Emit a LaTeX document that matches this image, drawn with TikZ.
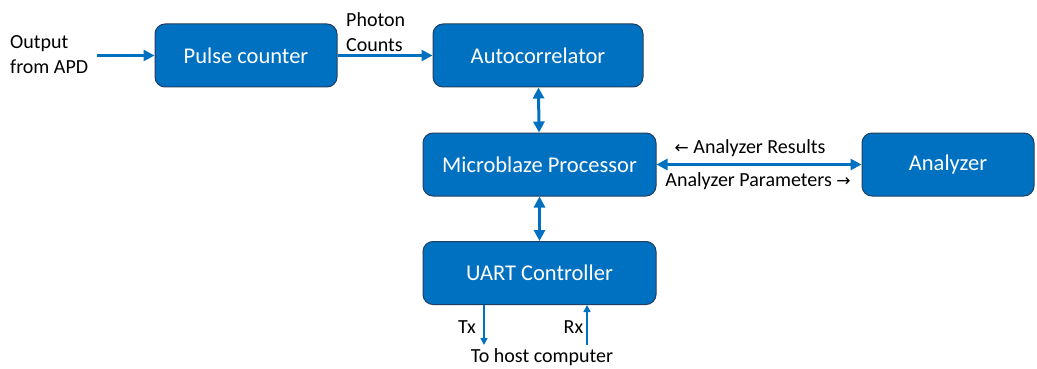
\documentclass[tikz,border=0pt]{standalone}
\usepackage{fontspec}
\setmainfont{Carlito}
\newfontfamily\arrowfont{DejaVu Sans}
\usetikzlibrary{arrows.meta}
\definecolor{boxblue}{RGB}{0,112,192}
\definecolor{boxedge}{RGB}{34,62,98}

\begin{document}
\begin{tikzpicture}[x=1pt,y=-1pt,
    blk/.style={draw=boxedge,line width=1pt,fill=boxblue,rounded corners=10pt,
      text=white,font=\fontsize{22.5}{27}\selectfont,minimum height=63pt,inner sep=0pt},
    lbl/.style={font=\fontsize{20}{25}\selectfont,inner sep=0pt,align=left},
    lnk/.style={draw=boxblue,line width=3pt,-{Triangle[length=11pt,width=11pt]}},
    duo/.style={draw=boxblue,line width=3pt,
      {Triangle[length=11pt,width=11pt]}-{Triangle[length=11pt,width=11pt]}},
    wire/.style={draw=boxblue,line width=1.5pt,-{Triangle[length=7pt,width=7pt]}}]
    \useasboundingbox (0,0) rectangle (1037,369);
    % blocks
    \node[blk,minimum width=182pt] (pulse) at (246,55.5) {Pulse counter};
    \node[blk,minimum width=210pt] (auto) at (538,55.5) {Autocorrelator};
    \node[blk,minimum width=233pt] (micro) at (539.5,164.5) {Microblaze Processor};
    \node[blk,minimum width=172pt] (analyzer) at (948,164.5) {Analyzer};
    \node[blk,minimum width=233pt] (uart) at (539.5,273) {UART Controller};
    % labels
    \node[lbl,anchor=west] (apdtxt) at (10,55) {Output\\from APD};
    \node[lbl,anchor=west] (phtxt) at (346,32) {Photon\\Counts};
    \node[lbl] (restxt) at (750,148) {{\arrowfont\fontsize{17}{20}\selectfont ←} Analyzer Results};
    \node[lbl] (partxt) at (758,181) {Analyzer Parameters {\arrowfont\fontsize{17}{20}\selectfont →}};
    \node[lbl] (txtxt) at (467,327) {Tx};
    \node[lbl] (rxtxt) at (573.5,327) {Rx};
    \node[lbl] (hosttxt) at (542,357) {To host computer};
    % links
    \coordinate (apd) at (97,55.5);
    \coordinate (tx) at (484,345);
    \coordinate (rx) at (587,345);
    \draw[lnk] (apd) -- (pulse);
    \draw[lnk] (pulse) -- (auto);
    \draw[duo] (auto) -- (micro);
    \draw[duo] (micro) -- (uart);
    \draw[duo] (micro) -- (analyzer);
    \draw[wire] (uart.south -| tx) -- (tx);
    \draw[wire] (rx) -- (uart.south -| rx);
\end{tikzpicture}
\end{document}
